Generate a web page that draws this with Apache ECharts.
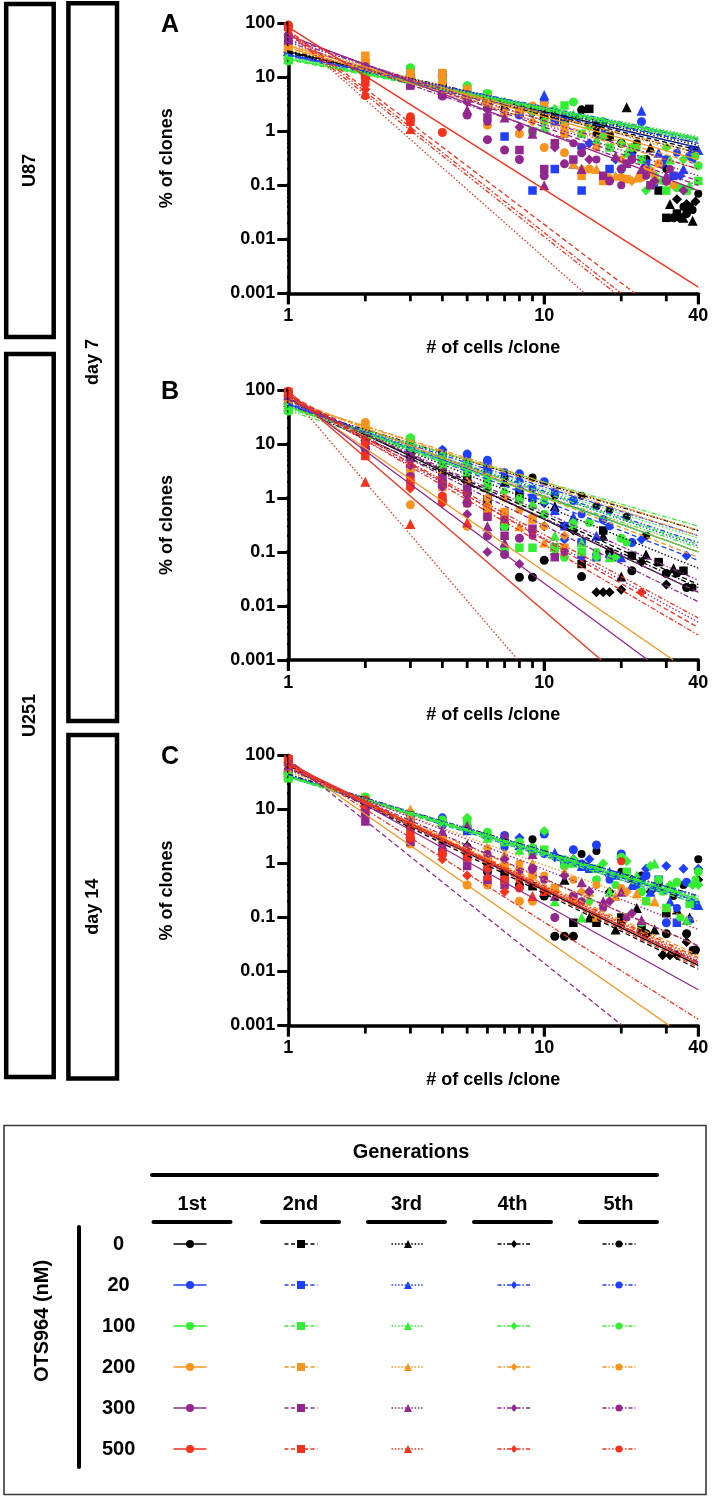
<!DOCTYPE html>
<html><head><meta charset="utf-8">
<script src="https://cdn.jsdelivr.net/npm/echarts@6/dist/echarts.min.js"></script>
<style>html,body{margin:0;padding:0;background:#fff}#c{width:717px;height:1498px}</style>
</head><body><div id="c"></div><script>
const concLabels = ['0','20','100','200','300','500'];
const genLabels = ['1st','2nd','3rd','4th','5th'];
const concColors = ['#000000','#1f3fff','#33ee33','#f7941d','#93278f','#f3311c'];
const genSymbols = ['circle','rect','triangle','diamond','circle'];
const genSymbolSizes = [9,8.5,10,10,8];
const genDash = ['solid',[5,3],[1.5,2],[5,2,1.5,2],[5,2,1.5,2,1.5,2]];
const panelLetters = ['A','B','C'];
const xTickLabels = ['1','10','40'];
const yTickLabels = ['0.001','0.01','0.1','1','10','100'];
const xMajorTicks = [1,10,40];
const yMajorTicks = [0.001,0.01,0.1,1,10,100];
const xMinorTicks = [2,3,4,5,6,7,8,9,20,30];
const yMinorTicks = [0.002,0.003,0.004,0.005,0.006,0.007,0.008,0.009,
  0.02,0.03,0.04,0.05,0.06,0.07,0.08,0.09,
  0.2,0.3,0.4,0.5,0.6,0.7,0.8,0.9,
  2,3,4,5,6,7,8,9,
  20,30,40,50,60,70,80,90];

// fit lines per concentration, per generation: [value at x=1, x end, value at x end]
const fitA = [
  [[30,40,0.5],[28,40,0.45],[30,40,0.55],[29,40,0.4],[31,40,0.6]],
  [[26,40,0.7],[25,40,0.6],[27,40,0.65],[25,40,0.5],[26,40,0.75]],
  [[22,40,0.75],[21,40,0.7],[23,40,0.8],[22,40,0.65],[24,40,0.72]],
  [[38,40,0.3],[35,40,0.25],[40,40,0.35],[36,40,0.2],[33,40,0.4]],
  [[60,40,0.08],[55,40,0.12],[50,40,0.15],[45,40,0.1],[48,40,0.2]],
  [[85,40,0.0013],[75,22.6,0.001],[70,14.4,0.001],[72,20,0.001],[65,19,0.001]]
];
const fitB = [
  [[70,40,0.018],[65,40,0.025],[60,40,0.05],[55,40,0.022],[50,40,0.25]],
  [[55,40,0.1],[58,40,0.07],[52,40,0.13],[50,40,0.2],[50,40,0.15]],
  [[50,40,0.1],[48,40,0.14],[46,40,0.18],[45,40,0.3],[42,40,0.12]],
  [[80,31.9,0.001],[70,40,0.08],[65,40,0.1],[60,40,0.25],[62,40,0.2]],
  [[85,25.4,0.001],[75,40,0.018],[70,40,0.005],[68,40,0.012],[65,40,0.03]],
  [[95,16.7,0.001],[85,40,0.004],[90,7.9,0.001],[80,40,0.0029],[75,40,0.006]]
];
const fitC = [
  [[65,40,0.013],[60,40,0.011],[58,40,0.015],[45,40,0.2],[42,40,0.25]],
  [[42,40,0.2],[40,40,0.18],[44,40,0.22],[41,40,0.25],[43,40,0.2]],
  [[40,40,0.22],[41,40,0.2],[39,40,0.24],[40,40,0.18],[42,40,0.23]],
  [[80,30.8,0.001],[62,40,0.02],[50,40,0.085],[60,40,0.017],[55,40,0.03]],
  [[75,40,0.0046],[85,20.2,0.001],[55,40,0.06],[60,40,0.03],[58,40,0.015]],
  [[70,40,0.014],[65,40,0.012],[68,40,0.016],[80,40,0.0013],[62,40,0.018]]
];

// Panel A (U87, day 7) points, per generation
const ptsA0 = [
  [[1,30],[2,14],[3,11],[4,7],[5,5],[6,3.2],[8,2.4],[10,1.8],[12,1.5],[14,2.5],[16,1.2],[20,0.6],[25,0.3],[30,0.12],[32,0.025],[34,0.025],[36,0.03]],
  [[1,28],[2,13],[3,10],[4,6],[6,3],[8,2.2],[11,1.6],[15,2.6],[18,0.8],[24,0.15],[28,0.08],[30,0.025],[33,0.03],[37,0.04]],
  [[1,31],[2,15],[3,12],[5,5.5],[7,3],[10,2.4],[13,2],[17,1.5],[21,2.8],[26,0.5],[31,0.045],[35,0.025],[38,0.022]],
  [[1,29],[2,14],[3,11],[4,7.5],[6,3.3],[9,2.2],[12,1.5],[16,0.9],[22,0.4],[27,0.12],[33,0.055],[36,0.045],[39,0.05]],
  [[1,31],[2,15],[4,7],[7,3.2],[11,2],[16,1.3],[23,0.6],[30,0.2],[35,0.04],[38,0.035],[40,0.07]]
];
const ptsA20 = [
  [[1,26],[2,15],[3,12],[4,10],[5,4],[8,2],[10,3.5],[12,1.4],[14,0.5],[20,0.2],[24,1.5],[30,0.3],[37,0.35]],
  [[1,25],[2,14],[3,12],[4,11],[6,3.5],[7,0.8],[9,0.08],[11,0.2],[14,0.08],[18,0.2],[25,0.25],[32,0.15],[38,0.45]],
  [[1,27],[2,14],[3,12],[5,5],[8,2.6],[10,4.7],[13,0.25],[17,1],[24,2.4],[28,0.4],[35,0.2],[40,0.45]],
  [[1,25],[2,13],[4,11],[6,4],[9,2.2],[12,1.8],[15,0.6],[19,0.3],[24,0.15],[29,0.25],[34,0.15]],
  [[1,26],[2,14],[3,11],[5,4.5],[8,2],[11,1.5],[16,0.6],[22,0.35],[27,0.11],[33,0.4],[38,0.3]]
];
const ptsA100 = [
  [[1,20],[2,20],[3,15],[4,9],[5,7],[6,5],[8,2.5],[10,1.5],[13,3.5],[17,1.5],[22,0.5],[27,0.15],[33,0.09],[40,0.23]],
  [[1,21],[2,18],[3,14],[5,6],[6,4.8],[9,1],[12,3],[14,0.9],[18,0.5],[24,0.3],[30,0.08],[36,0.08],[40,0.12]],
  [[1,22],[2,19],[4,10],[6,5],[10,1.2],[13,2],[16,0.7],[21,0.4],[26,0.2],[31,0.3],[37,0.1]],
  [[1,21],[2,17],[3,13],[5,7],[7,3.5],[11,2.6],[15,1.2],[20,0.6],[25,0.08],[30,0.5],[35,0.3]],
  [[1,23],[2,18],[4,9],[6,4.5],[9,2.3],[12,1.3],[17,0.8],[23,0.5],[29,0.12],[34,0.09],[39,0.35]]
];
const ptsA200 = [
  [[1,38],[2,20],[3,12],[4,8],[5,6],[6,1.3],[8,0.9],[10,0.5],[12,0.4],[15,0.2],[20,0.14],[24,0.14],[28,0.25]],
  [[1,35],[2,25],[3,10],[4,12],[6,4],[8,2.5],[10,3],[12,0.9],[14,0.15],[17,0.12],[21,0.13],[26,0.18]],
  [[1,40],[2,22],[3,11],[5,5],[7,2.5],[10,2.8],[13,0.25],[16,0.2],[19,0.15],[23,0.14],[27,0.15]],
  [[1,36],[2,18],[4,10],[6,3],[9,1.5],[11,0.6],[14,0.2],[18,0.14],[22,0.12],[25,0.2]],
  [[1,33],[2,20],[3,10],[5,5.5],[7,2],[9,3],[12,1.2],[16,0.5],[20,0.3],[27,0.12],[32,0.1]]
];
const ptsA300 = [
  [[1,60],[2,15],[3,8],[4,4.5],[5,2],[6,0.7],[7,0.45],[8,0.3],[10,0.15],[12,0.25],[14,0.4],[18,0.12],[22,0.3],[30,0.12]],
  [[1,55],[2,14],[3,7],[4,5],[6,1.8],[8,0.45],[10,0.2],[11,0.6],[13,0.3],[17,0.15],[21,0.25],[26,0.1]],
  [[1,50],[2,13],[3,8],[4,5],[5,2.5],[7,1.8],[9,0.9],[10,0.1],[14,0.2],[19,0.35],[24,0.2],[30,0.15]],
  [[1,45],[2,12],[3,7.5],[5,3.5],[6,2.5],[8,1.2],[11,0.5],[15,0.3],[20,0.2],[27,0.12],[35,0.08]],
  [[1,48],[2,16],[4,4.8],[6,1.5],[9,1],[13,0.6],[16,0.3],[20,0.1],[25,0.15],[31,0.2]]
];
const ptsA500 = [
  [[1,90],[2,10],[3,1.8],[4,0.95]],
  [[1,85],[2,8],[3,1.5]],
  [[1,92],[2,5],[3,1.1]],
  [[1,88],[2,6],[3,1.6]],
  [[1,95],[2,4.5],[3,1.9]]
];

// Panel B (U251, day 7)
const ptsB0 = [
  [[1,65],[2,16],[3,7],[4,3.5],[5,1.2],[6,0.6],[8,0.034],[9,0.034],[10,0.07],[14,0.035],[18,0.1],[22,0.045],[30,0.04],[36,0.022]],
  [[1,62],[2,15],[3,6],[4,3],[5,2.2],[6,0.9],[7,0.3],[8,1.2],[11,0.12],[14,0.06],[17,0.25],[22,0.085],[28,0.065],[35,0.045]],
  [[1,60],[2,14],[3,7],[4,2.5],[5,1.5],[7,2],[9,0.8],[11,0.7],[13,0.3],[17,0.2],[20,0.035],[25,0.09],[32,0.05]],
  [[1,55],[2,13],[3,6],[5,2],[6,3],[8,1],[10,0.3],[13,0.25],[16,0.018],[17,0.018],[18,0.018],[20,0.02],[24,0.065],[30,0.025]],
  [[1,50],[2,17],[3,9],[4,5.5],[5,4],[6,3.5],[7,2.5],[9,2.4],[11,1.1],[14,1.1],[16,0.7],[18,0.6],[21,0.45],[25,0.2],[28,0.065],[33,0.04],[38,0.022]]
];
const ptsB20 = [
  [[1,55],[2,18],[3,11],[4,7.5],[5,6.5],[6,5],[8,2.8],[10,2],[13,0.9],[17,0.4],[22,0.15]],
  [[1,52],[2,16],[3,10],[4,6],[5,4.5],[6,4],[7,0.5],[9,1],[12,0.3],[14,0.15],[16,0.08]],
  [[1,50],[2,17],[3,9],[5,5],[7,0.35],[8,2.4],[11,0.6],[13,0.45],[16,0.2],[20,0.08]],
  [[1,50],[2,15],[3,10],[4,7.8],[6,3],[8,1.5],[10,0.8],[12,0.17],[14,0.08],[18,0.08],[24,0.17],[36,0.085]],
  [[1,48],[2,18],[3,12],[5,6],[7,3],[9,1.5],[11,1.3],[14,0.5],[18,0.3],[22,0.15]]
];
const ptsB100 = [
  [[1,45],[2,20],[3,13],[4,5],[5,4.5],[6,1.5],[7,0.3],[8,0.9],[10,0.5],[12,0.08],[15,0.35],[20,0.18]],
  [[1,48],[2,18],[3,12],[4,4],[5,3],[6,2],[7,0.11],[8,0.12],[9,0.12],[11,0.12],[14,0.1]],
  [[1,44],[2,19],[3,11],[5,4],[6,1.6],[7,0.45],[9,0.8],[11,0.2],[14,0.15],[18,0.08]],
  [[1,42],[2,17],[3,10],[5,3.5],[7,1.3],[9,0.7],[11,0.09],[13,0.35],[16,0.08],[19,0.08]],
  [[1,40],[2,21],[3,12],[4,6],[6,2.5],[8,1],[10,0.9],[13,0.3],[16,0.1],[21,0.15]]
];
const ptsB200 = [
  [[1,80],[2,25],[3,0.75],[4,0.85],[5,0.3],[6,0.7],[7,0.4]],
  [[1,75],[2,20],[3,3],[4,1.6],[5,0.8],[6,0.5],[7,0.55],[9,0.4],[12,0.12]],
  [[1,72],[2,18],[3,4],[4,2],[5,1],[6,0.5],[8,0.3],[10,0.15]],
  [[1,68],[2,15],[3,6],[4,3],[5,2],[7,1],[9,0.45],[12,0.2]],
  [[1,70],[2,16],[3,5],[4,2.5],[6,1],[8,0.6],[10,0.3]]
];
const ptsB300 = [
  [[1,88],[2,8],[3,2.5],[4,1.8],[5,0.8],[6,0.2],[7,0.09],[8,0.18]],
  [[1,85],[2,12],[3,5.5],[4,2],[5,1.5],[6,0.45],[7,0.2],[9,0.27],[11,0.08]],
  [[1,80],[2,10],[3,4.5],[4,2.2],[5,1],[6,0.3],[7,0.15]],
  [[1,78],[2,9],[3,4],[4,1.6],[5,0.5],[6,0.1],[8,0.06]],
  [[1,82],[2,11],[3,6],[4,2.4],[5,1.2],[7,0.4],[9,0.2],[12,0.1]]
];
const ptsB500 = [
  [[1,95],[2,13],[3,2],[4,0.9]],
  [[1,92],[2,6],[3,1.8],[4,1]],
  [[1,90],[2,2],[3,0.33],[5,0.35]],
  [[1,88],[2,10],[3,1.5],[4,0.8],[24,0.018]],
  [[1,85],[2,12],[3,2.2],[4,1.1]]
];

// Panel C (U251, day 14)
const ptsC0 = [
  [[1,65],[2,14],[3,5],[4,2.5],[5,2],[6,0.7],[8,0.4],[10,0.25],[11,0.045],[12,0.045],[13,0.045],[16,0.09],[20,0.08],[25,0.05],[30,0.05],[36,0.05],[39,0.025]],
  [[1,60],[2,13],[3,5.5],[4,2.7],[6,1.1],[7,0.7],[9,0.38],[13,0.08],[16,0.08],[20,0.1],[24,0.06],[30,0.12]],
  [[1,58],[2,14],[3,6],[5,2.2],[7,0.9],[10,0.3],[12,0.5],[15,0.1],[19,0.06],[23,0.15],[27,0.06],[33,0.14],[37,0.1]],
  [[1,45],[2,16],[3,8],[4,5],[6,3],[9,2],[13,1.2],[15,0.3],[18,0.3],[22,0.5],[26,0.3],[29,0.02],[31,0.02],[33,0.02],[36,0.035],[40,0.5]],
  [[1,42],[2,15],[3,8],[5,4],[7,2.5],[9,2.8],[12,1],[14,1.5],[16,1.7],[20,0.7],[24,0.6],[28,0.4],[32,0.25],[35,0.4],[38,0.025],[40,1.2]]
];
const ptsC20 = [
  [[1,42],[2,15],[3,8],[4,7],[5,4.5],[7,3.3],[10,3.5],[13,1.8],[16,2.2],[20,1.5],[25,0.6],[30,0.08],[36,0.45]],
  [[1,40],[2,14],[3,7],[5,4],[7,2.5],[9,1.8],[12,1],[15,0.8],[19,0.6],[24,0.5],[28,0.5],[33,0.08],[39,0.17]],
  [[1,44],[2,16],[4,6],[6,3.5],[8,2.2],[11,1.6],[14,0.9],[18,0.7],[22,0.4],[26,0.3],[31,0.2],[40,0.17]],
  [[1,41],[2,15],[3,8],[5,5],[8,3],[11,1.3],[15,1.2],[20,1.2],[25,0.8],[30,0.9],[35,0.8],[40,0.8]],
  [[1,43],[2,14],[4,5],[7,2],[10,1.5],[14,1],[18,0.5],[23,0.4],[27,0.35],[33,0.15],[37,0.09]]
];
const ptsC100 = [
  [[1,40],[2,17],[3,7],[4,6],[5,6.5],[6,3.8],[8,2.5],[9,1.5],[12,0.9],[16,0.5],[20,1.3],[24,0.3],[28,0.5],[33,0.45],[40,0.7]],
  [[1,41],[2,16],[3,8],[5,5],[7,2.5],[10,1.8],[13,1],[16,0.8],[21,0.7],[25,0.2],[30,0.15],[37,0.18]],
  [[1,39],[2,15],[4,6],[6,3],[8,1.8],[11,0.2],[14,0.1],[18,0.3],[23,0.6],[27,1],[32,0.35],[36,0.09]],
  [[1,40],[2,16],[3,9],[5,7],[7,2.8],[10,4],[13,1.2],[17,1],[21,1.1],[26,0.9],[31,0.4],[38,0.4],[40,0.4]],
  [[1,42],[2,17],[4,6.5],[6,3],[9,2],[12,1.2],[15,0.2],[19,0.4],[24,0.08],[29,0.3],[34,0.1],[39,0.5]]
];
const ptsC200 = [
  [[1,78],[2,9],[3,2.3],[5,0.4],[6,0.4],[8,0.2],[9,0.2]],
  [[1,70],[2,12],[3,5],[4,2.5],[5,1.3],[6,1.2],[7,0.9],[9,0.6],[11,0.35],[13,0.2],[16,0.1]],
  [[1,62],[2,14],[3,10],[4,3],[5,2],[7,1.5],[9,1],[12,0.7],[15,0.3],[19,0.25],[23,0.28],[27,0.2]],
  [[1,66],[2,13],[3,6],[5,1.5],[6,1.9],[8,0.8],[11,0.3],[14,0.3],[18,0.2],[21,0.3]],
  [[1,68],[2,12],[3,6.5],[4,3],[6,1.5],[8,1],[10,0.6],[13,0.5],[16,0.4],[20,0.35]]
];
const ptsC300 = [
  [[1,80],[2,8],[3,3],[4,1.8],[5,1.5],[6,0.8],[7,0.5],[9,0.8],[11,0.1],[13,0.25]],
  [[1,85],[2,6],[3,2.5],[4,1.6],[5,0.9],[6,0.5],[7,0.4]],
  [[1,65],[2,12],[3,6],[4,4],[5,5],[7,3.3],[9,1.5],[11,0.25],[14,0.45],[17,0.2],[20,0.3],[24,0.09]],
  [[1,70],[2,10],[3,5],[5,2],[7,1.2],[9,0.8],[12,0.6],[15,0.3],[18,0.2],[22,0.12]],
  [[1,72],[2,9],[3,4.5],[4,2.2],[6,1.5],[8,0.7],[10,0.5],[14,0.2],[17,0.15],[21,0.1]]
];
const ptsC500 = [
  [[1,88],[2,15],[3,3],[4,1.5],[6,0.8],[8,0.35]],
  [[1,85],[2,14],[3,4],[5,1.3],[7,0.5],[10,0.3]],
  [[1,90],[2,13],[3,3.5],[4,1.8],[6,0.6],[9,0.25]],
  [[1,86],[2,12],[3,3],[4,1.2],[5,0.6],[7,0.3]],
  [[1,84],[2,14],[3,5],[5,1.5],[8,0.5],[20,1.1]]
];

const panelPts = [
  [ptsA0,ptsA20,ptsA100,ptsA200,ptsA300,ptsA500],
  [ptsB0,ptsB20,ptsB100,ptsB200,ptsB300,ptsB500],
  [ptsC0,ptsC20,ptsC100,ptsC200,ptsC300,ptsC500]
];
const panelFits = [fitA, fitB, fitC];

const FONT = "'Liberation Sans', Arial, Helvetica, sans-serif";
const gridTops = [23.3, 390, 755.5];
const gridLeft = 288.3, gridWidth = 410, gridHeight = 270;

function findLabel(list, v) {
  for (const s of list) { if (Math.abs(+s - v) / (+s) < 1e-4) return s; }
  return '';
}

// tick-mark outer ends, in axis data units (log axes: just outside x=1 / y=0.001)
const yTickOuterMinor = 0.93, yTickOuterMajor = 0.905;
const xTickOuterMinor = 0.00071, xTickOuterMajor = 0.00063;

const grids = [], xAxes = [], yAxes = [], series = [];
function tickLine(p, a, b, w) {
  series.push({type: 'line', xAxisIndex: p, yAxisIndex: p, clip: false, silent: true,
    showSymbol: false, symbol: 'none', z: 4,
    lineStyle: {color: '#000', width: w, type: 'solid'}, data: [a, b]});
}
for (let p = 0; p < 3; p++) {
  grids.push({left: gridLeft, top: gridTops[p], width: gridWidth, height: gridHeight});
  xAxes.push({
    type: 'log', logBase: 10, min: 1, max: 40, gridIndex: p,
    name: '# of cells /clone', nameLocation: 'middle', nameGap: 46,
    nameTextStyle: {fontFamily: FONT, fontWeight: 'bold', fontSize: 18, color: '#000'},
    axisLine: {show: true, lineStyle: {color: '#000', width: 3.5}},
    axisTick: {show: true, length: 11, lineStyle: {color: '#000', width: 3}},
    axisLabel: {margin: 14, fontFamily: FONT, fontWeight: 'bold', fontSize: 18, color: '#000',
      formatter: v => findLabel(xTickLabels, v)},
    splitLine: {show: false}
  });
  yAxes.push({
    type: 'log', logBase: 10, min: 0.001, max: 100, gridIndex: p,
    name: '% of clones', nameLocation: 'middle', nameGap: 112,
    nameTextStyle: {fontFamily: FONT, fontWeight: 'bold', fontSize: 18, color: '#000'},
    axisLine: {show: true, lineStyle: {color: '#000', width: 3.5}},
    axisTick: {show: true, length: 11, lineStyle: {color: '#000', width: 3}},
    axisLabel: {margin: 13, fontFamily: FONT, fontWeight: 'bold', fontSize: 18, color: '#000',
      formatter: v => findLabel(yTickLabels, v)},
    splitLine: {show: false}
  });
  // data points
  for (let c = 0; c < 6; c++) {
    for (let g = 0; g < 5; g++) {
      series.push({
        type: 'scatter', xAxisIndex: p, yAxisIndex: p, clip: false, silent: true,
        symbol: genSymbols[g], symbolSize: genSymbolSizes[g],
        itemStyle: {color: concColors[c], opacity: 1},
        data: panelPts[p][c][g]
      });
    }
  }
  // fit lines
  for (let c = 0; c < 6; c++) {
    for (let g = 0; g < 5; g++) {
      const f = panelFits[p][c][g];
      series.push({
        type: 'line', xAxisIndex: p, yAxisIndex: p, clip: false, silent: true,
        showSymbol: false, z: 3,
        lineStyle: {color: concColors[c], width: 1.3, type: genDash[g]},
        data: [[1, f[0]], [f[1], f[2]]]
      });
    }
  }
  // axis tick marks as short line segments through the axis scales
  yMinorTicks.forEach(v => tickLine(p, [yTickOuterMinor, v], [1, v], 2.6));
  yMajorTicks.forEach(v => tickLine(p, [yTickOuterMajor, v], [1, v], 3));
  xMinorTicks.forEach(v => tickLine(p, [v, xTickOuterMinor], [v, 0.001], 2.8));
  xMajorTicks.forEach(v => tickLine(p, [v, xTickOuterMajor], [v, 0.001], 3));
}

// ---- graphics: side boxes, panel letters, legend table ----
const graphics = [];
function box(x, y, w, h, label, lw) {
  graphics.push({type: 'rect', shape: {x: x, y: y, width: w, height: h},
    style: {fill: 'transparent', stroke: '#000', lineWidth: lw}});
  graphics.push({type: 'text', x: x + w / 2, y: y + h / 2, rotation: Math.PI / 2,
    style: {text: label, font: 'bold 18px ' + FONT, fill: '#000', align: 'center', verticalAlign: 'middle'}});
}
box(6.2, 3.9, 47.5, 333.2, 'U87', 4.5);
box(6.2, 353.9, 47.5, 723.2, 'U251', 4.5);
box(68.4, 3.2, 48.6, 717.8, 'day 7', 4.5);
box(68.4, 735, 48.6, 343.5, 'day 14', 4.5);

for (let p = 0; p < 3; p++) {
  graphics.push({type: 'text', x: 170, y: gridTops[p] + 2,
    style: {text: panelLetters[p], font: 'bold 25px ' + FONT, fill: '#000', align: 'center', verticalAlign: 'middle'}});
}

// legend table
graphics.push({type: 'rect', shape: {x: 4, y: 1125.5, width: 702, height: 369},
  style: {fill: 'transparent', stroke: '#3a3a3a', lineWidth: 1.6}});
graphics.push({type: 'text', x: 411, y: 1152,
  style: {text: 'Generations', font: 'bold 20px ' + FONT, fill: '#000', align: 'center', verticalAlign: 'middle'}});
graphics.push({type: 'line', shape: {x1: 152, y1: 1175, x2: 657, y2: 1175}, style: {stroke: '#000', lineWidth: 4, lineCap: 'round'}});
const colX = [192, 300.5, 406.5, 512.5, 618.5];
const legSymX = [190, 301, 408, 514, 619];
const rowY = [1244, 1285, 1326, 1367, 1408, 1449];
for (let g = 0; g < 5; g++) {
  graphics.push({type: 'text', x: colX[g], y: 1204,
    style: {text: genLabels[g], font: 'bold 20px ' + FONT, fill: '#000', align: 'center', verticalAlign: 'middle'}});
  graphics.push({type: 'line', shape: {x1: colX[g] - 38.5, y1: 1222, x2: colX[g] + 38.5, y2: 1222},
    style: {stroke: '#000', lineWidth: 4, lineCap: 'round'}});
}
graphics.push({type: 'line', shape: {x1: 79, y1: 1227, x2: 79, y2: 1467}, style: {stroke: '#000', lineWidth: 4, lineCap: 'round'}});
graphics.push({type: 'text', x: 42, y: 1321, rotation: Math.PI / 2,
  style: {text: 'OTS964 (nM)', font: 'bold 20px ' + FONT, fill: '#000', align: 'center', verticalAlign: 'middle'}});
function marker(kind, cx, cy, s, color) {
  const h = s / 2;
  if (kind === 'circle') return {type: 'circle', shape: {cx: cx, cy: cy, r: h}, style: {fill: color}};
  if (kind === 'rect') return {type: 'rect', shape: {x: cx - h, y: cy - h, width: s, height: s}, style: {fill: color}};
  if (kind === 'triangle') return {type: 'polygon', shape: {points: [[cx, cy - h], [cx + h, cy + h], [cx - h, cy + h]]}, style: {fill: color}};
  return {type: 'polygon', shape: {points: [[cx, cy - h], [cx + h * 0.8, cy], [cx, cy + h], [cx - h * 0.8, cy]]}, style: {fill: color}};
}
const legDash = [null, [4, 2.5], [1.5, 1.8], [4, 2, 1.5, 2], [4, 2, 1.5, 2, 1.5, 2]];
for (let c = 0; c < 6; c++) {
  graphics.push({type: 'text', x: 118.6, y: rowY[c],
    style: {text: concLabels[c], font: 'bold 20px ' + FONT, fill: '#000', align: 'center', verticalAlign: 'middle'}});
  for (let g = 0; g < 5; g++) {
    const cx = legSymX[g], cy = rowY[c];
    const st = {stroke: concColors[c], lineWidth: 1.5};
    if (legDash[g]) st.lineDash = legDash[g];
    graphics.push({type: 'line', shape: {x1: cx - 16.5, y1: cy, x2: cx + 16.5, y2: cy}, style: st});
    graphics.push(marker(genSymbols[g], cx, cy, g === 4 ? 7 : 8, concColors[c]));
  }
}

const chart = echarts.init(document.getElementById('c'));
chart.setOption({
  animation: false,
  backgroundColor: '#fff',
  grid: grids, xAxis: xAxes, yAxis: yAxes, series: series,
  graphic: {elements: graphics}
});
</script></body></html>
